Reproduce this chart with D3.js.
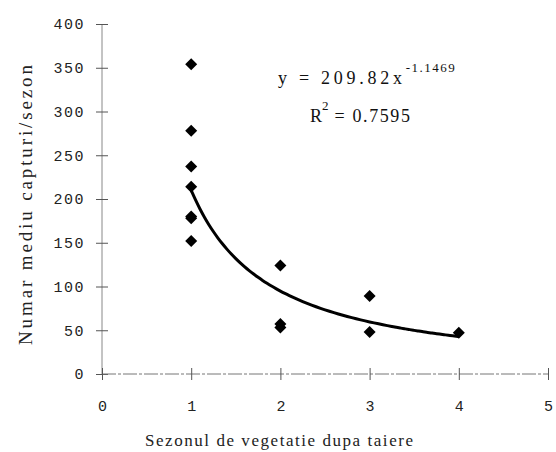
<!DOCTYPE html>
<html>
<head>
<meta charset="utf-8">
<script src="https://cdn.jsdelivr.net/npm/d3@7"></script>
<style>
  body { margin: 0; background: #fff; }
  svg { display: block; }
</style>
</head>
<body>
<svg id="chart" width="556" height="452"></svg>
<script>
// observed points (season, mean captures)
var seasons = [1, 1, 1, 1, 1, 1, 1, 2, 2, 2, 3, 3, 4];
var captures = [354, 278, 237, 214, 180, 178, 152, 124, 57, 53, 89, 48, 47];
var xTicks = [0, 1, 2, 3, 4, 5];
var yTicks = [0, 50, 100, 150, 200, 250, 300, 350, 400];
// power trendline as printed on the chart: y = a * x^b
var trendA = 209.82, trendB = -1.1469;

var svg = d3.select("#chart");
var x = d3.scaleLinear().domain([0, 5]).range([102, 548]);
var y = d3.scaleLinear().domain([0, 400]).range([374, 24]);

var mono = "'Liberation Mono', 'DejaVu Sans Mono', monospace";
var serif = "'Liberation Serif', 'DejaVu Serif', serif";

// y axis
var yAxis = svg.append("g").attr("transform", "translate(102,0)")
    .call(d3.axisLeft(y).tickValues(yTicks).tickSize(6).tickPadding(10));
yAxis.select(".domain").attr("stroke", "#888").attr("d", "M0," + y(400) + "V" + y(0));
yAxis.selectAll(".tick line").attr("stroke", "#555").attr("x1", -6).attr("x2", 6);
yAxis.selectAll(".tick text").attr("font-family", mono).attr("font-size", 15)
    .attr("letter-spacing", 1.5).attr("fill", "#222").attr("x", -17);

// x axis
var xAxis = svg.append("g").attr("transform", "translate(0,374)")
    .call(d3.axisBottom(x).tickValues(xTicks).tickFormat(d3.format("d")).tickSize(6).tickPadding(20));
xAxis.select(".domain").attr("stroke", "#777").attr("stroke-dasharray", "14,2,3,2")
    .attr("d", "M" + x(0) + ",0H" + x(5));
xAxis.selectAll(".tick line").attr("stroke", "#555").attr("y1", -6).attr("y2", 6);
xAxis.selectAll(".tick text").attr("font-family", mono).attr("font-size", 15).attr("fill", "#222");

// trendline
var trendXs = d3.range(1, 4.001, 0.05);
var line = d3.line().x(function (d) { return x(d); })
    .y(function (d) { return y(trendA * Math.pow(d, trendB)); })
    .curve(d3.curveBasis);
svg.append("path").datum(trendXs).attr("d", line)
    .attr("fill", "none").attr("stroke", "#000").attr("stroke-width", 3);

// points
var diamond = d3.symbol().type(d3.symbolSquare).size(72);
svg.selectAll(".pt").data(seasons).enter().append("path")
    .attr("class", "pt")
    .attr("d", diamond)
    .attr("transform", function (d, i) {
        return "translate(" + x(d) + "," + y(captures[i]) + ") rotate(45)";
    })
    .attr("fill", "#000");

// equation
var eq = svg.append("text").attr("x", 278).attr("y", 84)
    .attr("font-family", serif).attr("font-size", 18).attr("fill", "#111");
eq.append("tspan").attr("textLength", 124).text("y = 209.82x");
eq.append("tspan").attr("dy", -12).attr("font-size", 13).attr("letter-spacing", 1.5).text("-1.1469");

var r2 = svg.append("text").attr("x", 310).attr("y", 122)
    .attr("font-family", serif).attr("font-size", 18).attr("fill", "#111");
r2.append("tspan").text("R");
r2.append("tspan").attr("dy", -12).attr("font-size", 13).text("2");
r2.append("tspan").attr("dy", 12).attr("letter-spacing", 1.6).text(" = 0.7595");

// axis titles
svg.append("text").attr("x", 279).attr("y", 446).attr("text-anchor", "middle")
    .attr("font-family", serif).attr("font-size", 17).attr("fill", "#222")
    .attr("textLength", 268).text("Sezonul de vegetatie dupa taiere");

svg.append("text").attr("transform", "translate(32,205) rotate(-90)")
    .attr("text-anchor", "middle")
    .attr("font-family", serif).attr("font-size", 19).attr("fill", "#222")
    .attr("textLength", 280).text("Numar mediu capturi/sezon");
</script>
</body>
</html>
